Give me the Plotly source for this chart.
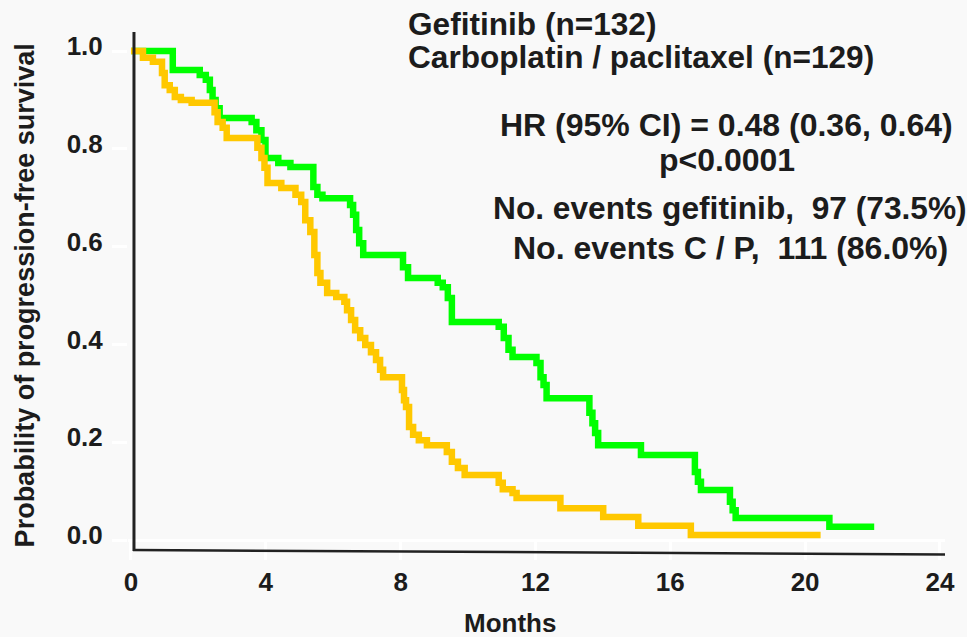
import plotly.graph_objects as go

# Kaplan-Meier progression-free survival, step points (months, survival after step)
gef_months = [0, 1.24, 2.04, 2.22, 2.34, 2.42, 2.51, 2.63, 3.58, 3.72, 3.87, 3.99,
              4.37, 4.73, 5.41, 5.53, 5.68, 6.50, 6.59, 6.68, 6.77, 6.89, 8.07, 8.22,
              9.10, 9.25, 9.40, 9.52, 10.91, 11.06, 11.20, 11.32, 12.03, 12.15, 12.24,
              12.33, 13.60, 13.69, 13.77, 13.86, 15.13, 16.73, 16.82, 16.91, 17.77,
              17.85, 17.94, 20.72, 22.05]
gef_surv = [1.0, 0.961, 0.951, 0.941, 0.920, 0.900, 0.883, 0.863, 0.855, 0.838, 0.818,
            0.781, 0.771, 0.763, 0.722, 0.706, 0.699, 0.685, 0.665, 0.634, 0.607, 0.583,
            0.558, 0.536, 0.526, 0.517, 0.495, 0.446, 0.436, 0.413, 0.389, 0.374, 0.362,
            0.333, 0.317, 0.290, 0.260, 0.239, 0.219, 0.194, 0.174, 0.139, 0.119, 0.102,
            0.078, 0.061, 0.045, 0.027, 0.027]

cp_months = [0, 0.355, 0.65, 0.92, 1.00, 1.15, 1.30, 1.48, 1.80, 2.48, 2.57, 2.72, 2.84,
             3.75, 3.87, 3.96, 4.05, 4.46, 4.88, 5.05, 5.17, 5.32, 5.44, 5.53, 5.62, 5.82,
             6.09, 6.33, 6.41, 6.53, 6.65, 6.80, 6.95, 7.12, 7.27, 7.39, 7.48, 8.04, 8.10,
             8.16, 8.25, 8.37, 8.54, 8.78, 9.37, 9.52, 9.70, 9.90, 10.91, 11.03, 11.32,
             11.44, 12.74, 14.01, 15.05, 16.61, 20.46]
cp_surv = [1.0, 0.986, 0.978, 0.955, 0.930, 0.920, 0.906, 0.900, 0.894, 0.875, 0.855,
           0.843, 0.822, 0.802, 0.781, 0.761, 0.730, 0.720, 0.706, 0.691, 0.654, 0.630,
           0.583, 0.546, 0.526, 0.505, 0.497, 0.487, 0.470, 0.450, 0.429, 0.413, 0.399,
           0.384, 0.368, 0.348, 0.333, 0.307, 0.286, 0.272, 0.231, 0.215, 0.204, 0.194,
           0.180, 0.160, 0.147, 0.133, 0.117, 0.104, 0.096, 0.086, 0.065, 0.047, 0.029,
           0.010, 0.010]

x_ticks = [0, 4, 8, 12, 16, 20, 24]
y_ticks = [0.0, 0.2, 0.4, 0.6, 0.8, 1.0]
y_tick_text = ["0.0", "0.2", "0.4", "0.6", "0.8", "1.0"]

W, H = 967, 637
ML, MR, MT, MB = 128, 19, 30, 77
PW, PH = W - ML - MR, H - MT - MB

FONT = "Liberation Sans, Arial, Helvetica, sans-serif"
INK = "#1c1c1c"
BG = "#f9f9f9"


def px_x(px):
    return (px - ML) / PW


def px_y(py):
    return (H - MB - py) / PH


fig = go.Figure()
fig.add_trace(go.Scatter(x=gef_months, y=gef_surv, mode="lines", line_shape="hv",
                         line=dict(color="#00ff00", width=6.5), name="Gefitinib"))
fig.add_trace(go.Scatter(x=cp_months, y=cp_surv, mode="lines", line_shape="hv",
                         line=dict(color="#ffc800", width=6.5), name="Carboplatin / paclitaxel"))

# axis lines: vertical y-axis and the slightly tilted month axis
fig.add_shape(type="line", xref="paper", yref="paper",
              x0=px_x(134), y0=px_y(32), x1=px_x(134), y1=px_y(551),
              line=dict(color="#222222", width=3))
fig.add_shape(type="line", xref="paper", yref="paper",
              x0=px_x(133), y0=px_y(550), x1=px_x(948), y1=px_y(554.5),
              line=dict(color="#222222", width=2.5))

annotations = [
    dict(text="Gefitinib (n=132)", x=px_x(407), y=px_y(24), xanchor="left", size=31.6),
    dict(text="Carboplatin / paclitaxel (n=129)", x=px_x(407), y=px_y(57), xanchor="left", size=31.6),
    dict(text="HR (95% CI) = 0.48 (0.36, 0.64)", x=px_x(729), y=px_y(125), xanchor="center", size=32),
    dict(text="p<0.0001", x=px_x(729), y=px_y(160), xanchor="center", size=32),
    dict(text="No. events gefitinib,\u00a0 97 (73.5%)", x=px_x(492), y=px_y(208), xanchor="left", size=31.7),
    dict(text="No. events C / P,\u00a0 111 (86.0%)", x=px_x(512), y=px_y(248), xanchor="left", size=32),
]
for a in annotations:
    size = a.pop("size")
    fig.add_annotation(xref="paper", yref="paper", yanchor="middle", showarrow=False,
                       font=dict(family=FONT, size=size, color=INK, weight="bold"), **a)

fig.add_annotation(text="Months", xref="paper", yref="paper", x=px_x(511), y=px_y(623),
                   xanchor="center", yanchor="middle", showarrow=False,
                   font=dict(family=FONT, size=26, color=INK, weight="bold"))
fig.add_annotation(text="Probability of progression-free survival", xref="paper", yref="paper",
                   x=px_x(25), y=px_y(295), xanchor="center", yanchor="middle",
                   textangle=-90, showarrow=False,
                   font=dict(family=FONT, size=27, color=INK, weight="bold"))

x_min = -3 / 33.83
fig.update_layout(
    width=W, height=H,
    margin=dict(l=ML, r=MR, t=MT, b=MB, pad=0),
    paper_bgcolor=BG, plot_bgcolor=BG,
    showlegend=False,
    xaxis=dict(range=[x_min, x_min + PW / 33.83], tickvals=x_ticks,
               showgrid=False, zeroline=False, showline=False,
               ticks="inside", ticklen=18, tickwidth=3, tickcolor="#ffffff",
               ticklabelstandoff=4,
               tickfont=dict(family=FONT, size=26, color=INK, weight="bold")),
    yaxis=dict(range=[-(H - MB - 540) / 489, (540 - MT) / 489], tickvals=y_ticks,
               ticktext=y_tick_text,
               showgrid=False, zeroline=True, zerolinecolor="#ffffff", zerolinewidth=3,
               showline=False, ticks="outside", ticklen=15, tickwidth=3,
               tickcolor="#ffffff", ticklabelshift=-5, ticklabelstandoff=4,
               tickfont=dict(family=FONT, size=26, color=INK, weight="bold")),
)

fig.write_html("out.html")
